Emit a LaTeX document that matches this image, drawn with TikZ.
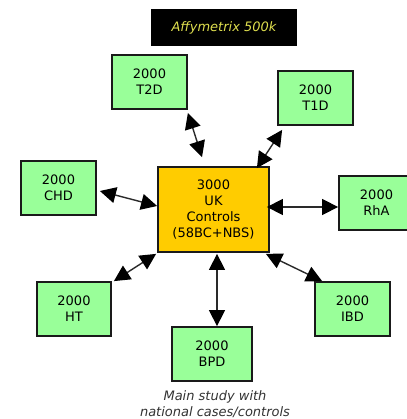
\documentclass[tikz,border=0pt]{standalone}
\usepackage{fontspec}
\setmainfont{DejaVu Sans}
\usetikzlibrary{arrows.meta,calc}
\definecolor{boxgreen}{HTML}{99FF99}
\definecolor{boxorange}{HTML}{FFCC00}
\definecolor{edge}{HTML}{1A1A1A}
\definecolor{wire}{HTML}{2A2A2A}
\definecolor{titletext}{HTML}{DEDE4E}
\definecolor{captext}{HTML}{333333}
\tikzset{
  txt/.style={font=\fontsize{13}{16}\selectfont, align=center, inner sep=0pt},
  study/.style={txt, draw=edge, line width=1.8pt, fill=boxgreen,
    minimum width=75pt, minimum height=54pt},
  hub/.style={txt, draw=edge, line width=1.8pt, fill=boxorange,
    minimum width=111pt, minimum height=85pt},
  link/.style={draw=wire, line width=1.4pt,
    {Triangle[length=16pt,width=16pt,color=black]}-{Triangle[length=16pt,width=16pt,color=black]}}
}
\begin{document}
\begin{tikzpicture}[x=1pt,y=-1pt]
\useasboundingbox (0,0) rectangle (406,419);
\fill[white] (0,0) rectangle (406,419);

% platform label
\node[txt, fill=black, minimum width=146pt, minimum height=37pt,
  text=titletext, font=\fontsize{13}{16}\selectfont\itshape] (chip) at (224,27.5) {Affymetrix 500k};

% shared control group
\node[hub] (ctr) at (213.5,209.5) {3000\\UK\\Controls\\(58BC+NBS)};

% case collections
\node[study] (t2d) at (149.5,82) {2000\\T2D};
\node[study] (t1d) at (315.5,98) {2000\\T1D};
\node[study] (chd) at (58.5,188) {2000\\CHD};
\node[study] (rha) at (376.5,203) {2000\\RhA};
\node[study, minimum width=74pt] (ht) at (74,309) {2000\\HT};
\node[study, minimum width=80pt] (bpd) at (212,354) {2000\\BPD};
\node[study] (ibd) at (352.5,309) {2000\\IBD};

% caption
\node[txt, text=captext, font=\fontsize{13}{16}\selectfont\itshape] (cap) at (215,404)
  {Main study with\\national cases/controls};

% connectors
\draw[link] ($(t2d.south east)+(0,3)$) -- ($(ctr.north)+(-11.5,-9)$);
\draw[link] ($(t1d.south west)+(5,4)$) -- ($(ctr.north east)+(-13,2)$);
\draw[link] ($(chd.east)+(3,3)$) -- ($(ctr.west)+(0,-3.5)$);
\draw[link] ($(ctr.east)+(-3,-2.5)$) -- ($(rha.west)+(0,4)$);
\draw[link] ($(ht.north east)+(2,0)$) -- ($(ctr.south west)+(-1,1)$);
\draw[link] ($(ctr.south)+(3.5,1)$) -- ($(bpd.north)+(5,0)$);
\draw[link] ($(ctr.south east)+(-4,1)$) -- ($(ibd.north west)+(8,0)$);
\end{tikzpicture}
\end{document}
